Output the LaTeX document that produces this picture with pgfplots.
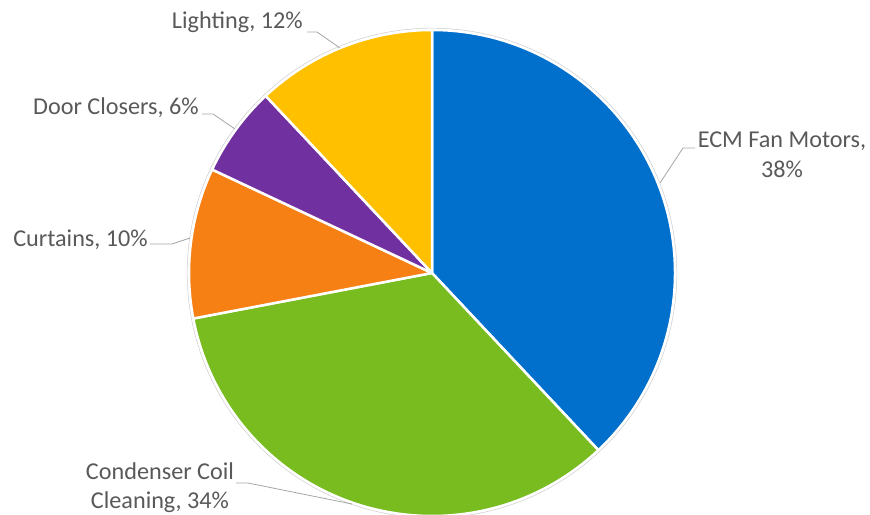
\documentclass[border=0pt]{standalone}
\usepackage{pgfplots}
\usepackage{pgfplotstable}
\pgfplotsset{compat=1.18}
\usepackage{fontspec}
\setmainfont{Carlito}
\definecolor{c0}{RGB}{0,112,204}
\definecolor{c1}{RGB}{120,188,32}
\definecolor{c2}{RGB}{246,128,20}
\definecolor{c3}{RGB}{112,48,160}
\definecolor{c4}{RGB}{255,192,0}
\definecolor{labelgray}{RGB}{89,89,89}
\definecolor{leadgray}{RGB}{166,166,166}
\tikzset{lbl/.style={text=labelgray,inner sep=0pt,font=\fontsize{24.2bp}{29.5bp}\selectfont}}
\pgfplotstableread{
name pct
ECM 38
Condenser 34
Curtains 10
Door 6
Lighting 12
}\piedata
\begin{document}
\begin{tikzpicture}
\begin{axis}[width=870bp,height=514bp,scale only axis,
  xmin=0,xmax=870,ymin=0,ymax=514,hide axis,clip=true]
\def\angA{90}
\pgfplotsforeachungrouped \i in {0,...,4}{%
  \pgfplotstablegetelem{\i}{pct}\of\piedata
  \pgfmathsetmacro\angB{\angA-3.6*\pgfplotsretval}%
  \edef\cmd{\noexpand\fill[c\i,draw=white,line width=2.5bp,line join=round] (axis cs:432,241) -- ++(\angA:243bp) arc[start angle=\angA,end angle=\angB,radius=243bp] -- cycle;}%
  \cmd
  \global\let\angA\angB
}
\draw[black!20,line width=0.5bp] (axis cs:432,241) circle[radius=244.8bp];
% leader lines
\draw[leadgray,line width=0.8bp] (axis cs:660,331) -- (axis cs:683,366) -- (axis cs:695,366);
\draw[leadgray,line width=0.8bp] (axis cs:236,31) -- (axis cs:248,31) -- (axis cs:352,10);
\draw[leadgray,line width=0.8bp] (axis cs:150,270) -- (axis cs:172,270) -- (axis cs:190,276);
\draw[leadgray,line width=0.8bp] (axis cs:202,400) -- (axis cs:213,400) -- (axis cs:235,385);
\draw[leadgray,line width=0.8bp] (axis cs:307,482) -- (axis cs:317,482) -- (axis cs:340,466);
% labels
\node[lbl,align=center] at (axis cs:782,359) {ECM Fan Motors,\\38\%};
\node[lbl,align=center] at (axis cs:160,26.5) {Condenser Coil\\Cleaning, 34\%};
\node[lbl,anchor=east] at (axis cs:148,274) {Curtains, 10\%};
\node[lbl,anchor=east] at (axis cs:199,406) {Door Closers, 6\%};
\node[lbl,anchor=east] at (axis cs:303,492) {Lighting, 12\%};
\end{axis}
\pgfresetboundingbox
\path (current axis.south west) rectangle (current axis.north east);
\end{tikzpicture}
\end{document}
